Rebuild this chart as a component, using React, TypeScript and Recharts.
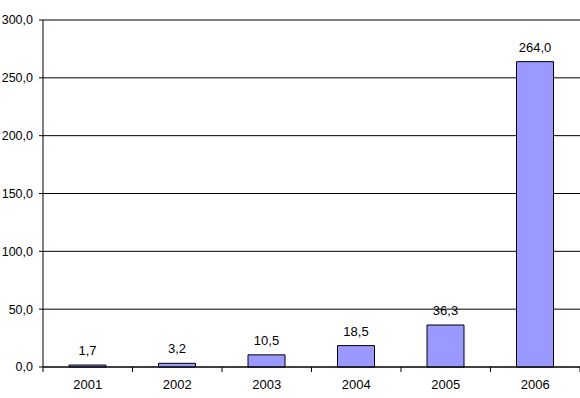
import React from "react";
import { BarChart, Bar, XAxis, YAxis, CartesianGrid, LabelList, ReferenceLine } from "recharts";

const years = ["2001", "2002", "2003", "2004", "2005", "2006"];
const values = [1.7, 3.2, 10.5, 18.5, 36.3, 264.0];
const yTicks = [0, 50, 100, 150, 200, 250, 300];

const data = years.map((y, i) => ({ year: y, value: values[i] }));

const fmt = (v: number) => v.toFixed(1).replace(".", ",");
const FONT = "Liberation Sans, Arial, sans-serif";

const XTick = (props: any) => {
  const { x, y, payload, index } = props;
  const half = payload && payload.offset ? payload.offset : 44.75;
  return (
    <g>
      <line x1={x - half} y1={367} x2={x - half} y2={372} stroke="#000" />
      {index === years.length - 1 ? (
        <line x1={x + half} y1={367} x2={x + half} y2={372} stroke="#000" />
      ) : null}
      <text x={x} y={y + 14} textAnchor="middle" fontSize={13} fill="#000" fontFamily={FONT}>
        {payload.value}
      </text>
    </g>
  );
};

export default function App() {
  return (
    <div style={{ position: "absolute", left: 0, top: 0, width: 580, height: 398, background: "#fff" }}>
      <BarChart
        width={580}
        height={398}
        data={data}
        margin={{ top: 20, right: 0, bottom: 0, left: 0 }}
        style={{ fontFamily: FONT }}
      >
        <CartesianGrid vertical={false} stroke="#000" strokeOpacity={1} />
        <ReferenceLine y={300} stroke="#808080" />
        <XAxis
          dataKey="year"
          height={31}
          stroke="#000"
          tickLine={false}
          tick={<XTick />}
          interval={0}
        />
        <YAxis
          width={43}
          domain={[0, 300]}
          ticks={yTicks}
          stroke="#000"
          tickSize={4}
          tickMargin={6}
          tickFormatter={fmt}
          tick={{ fontSize: 12.5, fill: "#000" }}
          interval={0}
        />
        <Bar dataKey="value" fill="#9999FF" stroke="#000" strokeWidth={1} barSize={37} isAnimationActive={false}>
          <LabelList dataKey="value" position="top" offset={10} formatter={(v: any) => fmt(Number(v))} style={{ fontSize: 13, fill: "#000" }} />
        </Bar>
      </BarChart>
    </div>
  );
}
